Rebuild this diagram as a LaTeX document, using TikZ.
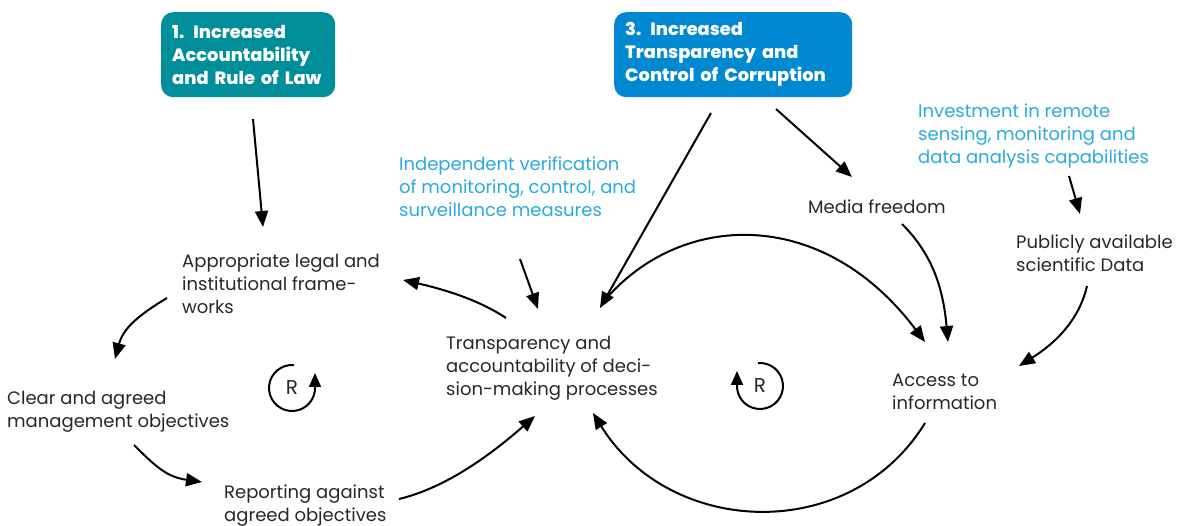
\documentclass[tikz,border=0pt]{standalone}
\usepackage{fontspec}
\setmainfont{Poppins}
\newfontfamily\heavyfont{Poppins ExtraBold}
\usetikzlibrary{arrows.meta}
\definecolor{tealbox}{RGB}{0,142,155}
\definecolor{bluebox}{RGB}{0,136,209}
\definecolor{bluetext}{RGB}{41,171,226}
\definecolor{darktext}{RGB}{40,40,40}
\begin{document}
\begin{tikzpicture}[x=1pt,y=-1pt,
  lbl/.style={anchor=north west, align=left, inner sep=0pt, font=\fontsize{18}{23}\selectfont, text=darktext},
  bluelbl/.style={lbl, text=bluetext},
  goalbox/.style={anchor=north west, rounded corners=12pt, text width=#1, inner xsep=11pt, minimum height=85pt, align=left, text=white, font=\heavyfont\fontsize{17.8}{23}\selectfont},
  conn/.style={line width=2pt, draw=black, -{Triangle[length=16pt,width=13pt]}},
  loopc/.style={line width=2pt, draw=black, -{Triangle[length=14pt,width=12pt]}},
  rlbl/.style={font=\fontsize{20}{20}\selectfont, text=darktext, inner sep=0pt}
]
\fill[white] (0,0) rectangle (1179,526);
\useasboundingbox (0,0) rectangle (1179,526);

% goal boxes
\node[goalbox=152, fill=tealbox] (b1) at (161,12) {1. Increased\\Accountability\\and Rule of Law};
\node[goalbox=216, fill=bluebox] (b3) at (614,12) {3. Increased\\Transparency and\\Control of Corruption};

% text nodes
\node[lbl] (legal) at (182,254) {Appropriate legal and\\institutional frame-\\works};
\node[lbl] (clear) at (7,391) {Clear and agreed\\management objectives};
\node[lbl] (report) at (224,485) {Reporting against\\agreed objectives};
\node[lbl] (transp) at (446,336) {Transparency and\\accountability of deci-\\sion-making processes};
\node[bluelbl] (verif) at (399,157) {Independent verification\\of monitoring, control, and\\surveillance measures};
\node[lbl] (media) at (808,200) {Media freedom};
\node[bluelbl] (invest) at (918,104) {Investment in remote\\sensing, monitoring and\\data analysis capabilities};
\node[lbl] (public) at (1016,235) {Publicly available\\scientific Data};
\node[lbl] (access) at (892,374) {Access to\\information};

% loop markers
\node[rlbl] (r1) at (292,388) {R};
\node[rlbl] (r2) at (760,386) {R};
\draw[loopc] ([shift={(-85:23)}]r1.center) arc[start angle=-85, end angle=-360, radius=23] -- ++(0,-15);
\draw[loopc] ([shift={(-95:23)}]r2.center) arc[start angle=-95, end angle=180, radius=23] -- ++(0,-15);

% connectors
\draw[conn] ([shift={(92,107)}]b1.north west) -- ([shift={(81,-27)}]legal.north west);
\draw[conn] ([shift={(60,-18)}]transp.north west) .. controls +(-30,-20) and +(35,8) .. ([shift={(221,26)}]legal.north west);
\draw[conn] ([shift={(121,102)}]verif.north west) -- ([shift={(92,-27)}]transp.north west);
\draw[conn] ([shift={(-15,44)}]legal.north west) .. controls +(-30,18) and +(8,-30) .. ([shift={(108,-32)}]clear.north west);
\draw[conn] ([shift={(127,54)}]clear.north west) .. controls +(22,22) and +(-35,-5) .. ([shift={(-22,-3)}]report.north west);
\draw[conn] ([shift={(175,14)}]report.north west) .. controls +(50,-12) and +(-40,35) .. ([shift={(89,80)}]transp.north west);
\draw[conn] ([shift={(97,101)}]b3.north west) -- ([shift={(154,-28)}]transp.north west);
\draw[conn] ([shift={(162,97)}]b3.north west) -- ([shift={(44,-23)}]media.north west);
\draw[conn] ([shift={(159,-36)}]transp.north west) .. controls +(75,-88) and +(-103,-137) .. ([shift={(33,-32)}]access.north west);
\draw[conn] ([shift={(94,24)}]media.north west) .. controls +(30,30) and +(-5,-55) .. ([shift={(56,-32)}]access.north west);
\draw[conn] ([shift={(33,49)}]access.north west) .. controls +(-75,122) and +(77,124) .. ([shift={(147,77)}]transp.north west);
\draw[conn] ([shift={(151,72)}]invest.north west) -- ([shift={(64,-21)}]public.north west);
\draw[conn] ([shift={(71,51)}]public.north west) .. controls +(-8,35) and +(35,-22) .. ([shift={(127,-8)}]access.north west);
\end{tikzpicture}
\end{document}
